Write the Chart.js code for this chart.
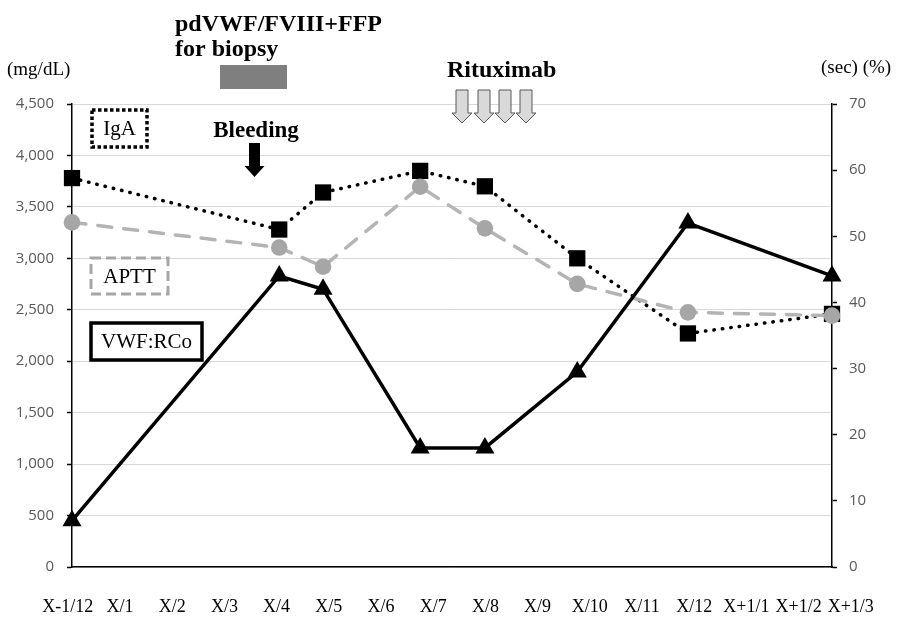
<!DOCTYPE html>
<html>
<head>
<meta charset="utf-8">
<script src="https://cdn.jsdelivr.net/npm/chart.js@4.4.1/dist/chart.umd.min.js"></script>
<style>
  html, body { margin: 0; padding: 0; background: #fff; }
  #wrap { width: 898px; height: 617px; position: relative; }
</style>
</head>
<body>
<div id="wrap"><canvas id="chart"></canvas></div>
<script>
// labels under the x axis, one per month (index = month position)
const monthLabels = ['X-1/12', 'X/1', 'X/2', 'X/3', 'X/4', 'X/5', 'X/6', 'X/7', 'X/8', 'X/9', 'X/10', 'X/11', 'X/12', 'X+1/1', 'X+1/2', 'X+1/3'];

// sampling dates, as month positions on the same scale as the labels
const sampleMonths = [0.08, 4.05, 4.89, 6.75, 7.99, 9.76, 11.88, 14.64];

// IgA (mg/dL) - left axis
const igA = [3780, 3280, 3640, 3850, 3700, 3000, 2270, 2460];
// APTT (sec) - right axis
const aptt = [52.1, 48.3, 45.4, 57.5, 51.2, 42.8, 38.5, 38.0];
// VWF:RCo (%) - right axis
const vwfRCo = [7, 44, 42, 18, 18, 29.5, 52, 44];

const toPoints = vals => vals.map((v, i) => ({ x: sampleMonths[i], y: v }));

const serif = '"Liberation Serif", "Times New Roman", serif';

function downArrow(ctx, cx, top, shaftW, headW, headY, tipY) {
    ctx.beginPath();
    ctx.moveTo(cx - shaftW / 2, top);
    ctx.lineTo(cx + shaftW / 2, top);
    ctx.lineTo(cx + shaftW / 2, headY);
    ctx.lineTo(cx + headW / 2, headY);
    ctx.lineTo(cx, tipY);
    ctx.lineTo(cx - headW / 2, headY);
    ctx.lineTo(cx - shaftW / 2, headY);
    ctx.closePath();
}

function labelBox(ctx, text, x, y, w, h, color, width, dash) {
    ctx.save();
    ctx.strokeStyle = color;
    ctx.lineWidth = width;
    ctx.setLineDash(dash);
    ctx.strokeRect(x, y, w, h);
    ctx.setLineDash([]);
    ctx.fillStyle = '#000';
    ctx.font = '21px ' + serif;
    ctx.textAlign = 'center';
    ctx.textBaseline = 'middle';
    ctx.fillText(text, x + w / 2, y + h / 2 + 1);
    ctx.restore();
}

// text boxes, arrows and the treatment bar drawn over the chart
const notes = {
    id: 'notes',
    afterDraw(chart) {
        const ctx = chart.ctx;
        ctx.save();
        ctx.fillStyle = '#000';
        ctx.textBaseline = 'middle';
        ctx.textAlign = 'left';
        ctx.font = '19px ' + serif;
        ctx.fillText('(mg/dL)', 7, 70);
        ctx.fillText('(sec) (%)', 821, 68);

        ctx.textBaseline = 'alphabetic';
        ctx.font = 'bold 24px ' + serif;
        ctx.fillText('pdVWF/FVIII+FFP', 175, 31);
        ctx.fillText('for biopsy', 175, 56);
        ctx.fillText('Rituximab', 447, 77);

        ctx.fillStyle = '#7f7f7f';
        ctx.fillRect(220, 65, 67, 24);

        ctx.fillStyle = '#000';
        ctx.textAlign = 'center';
        ctx.font = 'bold 23px ' + serif;
        ctx.fillText('Bleeding', 256, 137);
        downArrow(ctx, 254.5, 143, 11, 20, 166, 177);
        ctx.fill();

        ctx.fillStyle = '#d9d9d9';
        ctx.strokeStyle = '#595959';
        ctx.lineWidth = 1;
        [462, 484, 505, 526].forEach(cx => {
            downArrow(ctx, cx, 90, 12, 20, 113, 123);
            ctx.fill();
            ctx.stroke();
        });
        ctx.restore();

        labelBox(ctx, 'IgA', 92, 110, 55, 37, '#000', 3.5, [3.5, 2.5]);
        labelBox(ctx, 'APTT', 91, 258, 77, 36, '#a6a6a6', 3, [10, 5]);
        labelBox(ctx, 'VWF:RCo', 91, 323, 111, 37, '#000', 3.5, []);
    }
};

const ctx = document.getElementById('chart').getContext('2d');

new Chart(ctx, {
    type: 'line',
    data: {
        datasets: [
            {
                label: 'IgA',
                data: toPoints(igA),
                yAxisID: 'y',
                order: 3,
                clip: false,
                borderColor: '#000',
                borderWidth: 3.5,
                borderDash: [0.5, 8],
                borderCapStyle: 'round',
                pointStyle: 'rect',
                pointRadius: 11.5,
                pointHoverRadius: 11.5,
                pointBackgroundColor: '#000',
                pointBorderWidth: 0,
                fill: false,
            },
            {
                label: 'APTT',
                data: toPoints(aptt),
                yAxisID: 'y1',
                order: 2,
                clip: false,
                borderColor: '#b4b4b4',
                borderWidth: 3.5,
                borderDash: [14, 12],
                borderCapStyle: 'round',
                pointStyle: 'circle',
                pointRadius: 8.3,
                pointHoverRadius: 8.3,
                pointBackgroundColor: '#a6a6a6',
                pointBorderWidth: 0,
                fill: false,
            },
            {
                label: 'VWF:RCo',
                data: toPoints(vwfRCo),
                yAxisID: 'y1',
                order: 1,
                clip: false,
                borderColor: '#000',
                borderWidth: 3.5,
                pointStyle: 'triangle',
                pointRadius: 11,
                pointHoverRadius: 11,
                pointBackgroundColor: '#000',
                pointBorderWidth: 0,
                fill: false,
            },
        ]
    },
    options: {
        responsive: true,
        maintainAspectRatio: false,
        animation: false,
        layout: { padding: { left: 8, right: 10, top: 104, bottom: 5 } },
        plugins: {
            legend: { display: false },
            tooltip: { enabled: false },
        },
        scales: {
            x: {
                type: 'linear',
                bounds: 'data',
                min: sampleMonths[0],
                max: sampleMonths[sampleMonths.length - 1],
                grid: { display: false },
                border: { color: '#000', width: 1.5 },
                afterBuildTicks: axis => {
                    axis.ticks = monthLabels.map((_, i) => ({ value: i }));
                },
                afterFit: axis => { axis.height = 45; },
                ticks: {
                    autoSkip: false,
                    maxRotation: 0,
                    minRotation: 0,
                    padding: 21,
                    color: '#000',
                    font: { family: serif, size: 18 },
                    callback: v => monthLabels[Math.round(v)],
                },
            },
            y: {
                position: 'left',
                min: 0,
                max: 4500,
                ticks: {
                    stepSize: 500,
                    padding: 13,
                    color: '#595959',
                    font: { family: '"Open Sans", sans-serif', size: 15 },
                },
                grid: { color: '#d9d9d9', lineWidth: 1, tickColor: '#000', tickLength: 5, tickWidth: 1.5 },
                border: { color: '#000', width: 1.5 },
                afterFit: axis => { axis.width = 64; },
            },
            y1: {
                position: 'right',
                min: 0,
                max: 70,
                ticks: {
                    stepSize: 10,
                    padding: 12,
                    color: '#595959',
                    font: { family: '"Open Sans", sans-serif', size: 15 },
                },
                grid: { drawOnChartArea: false, tickColor: '#000', tickLength: 5, tickWidth: 1.5 },
                border: { color: '#000', width: 1.5 },
                afterFit: axis => { axis.width = 56; },
            },
        },
    },
    plugins: [notes],
});
</script>
</body>
</html>
